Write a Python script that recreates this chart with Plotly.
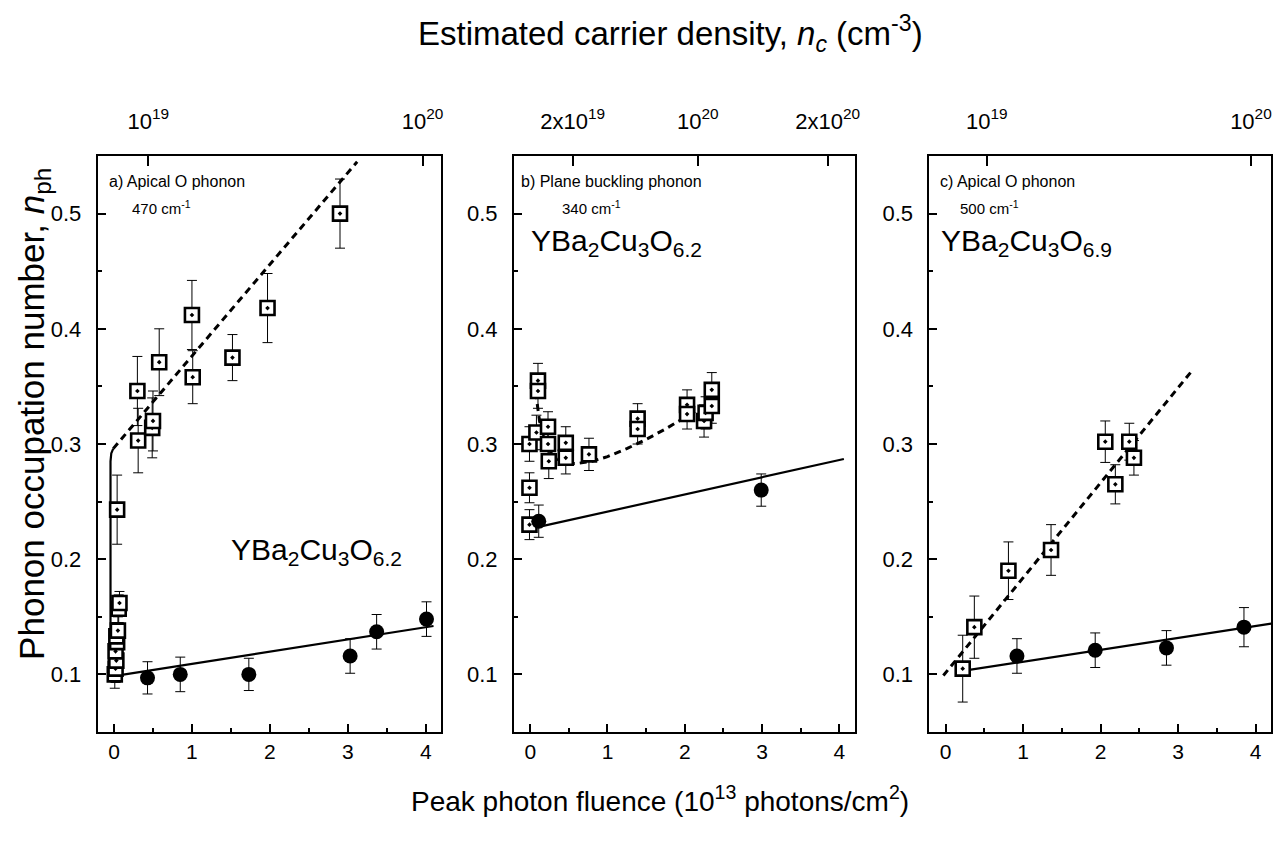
import plotly.graph_objects as go

FONT = "Liberation Sans, Arial, Helvetica, sans-serif"

# ---------------- data ----------------
# Panel a: apical O phonon 470 cm-1, YBa2Cu3O6.2
a_sq_x = [0.01, 0.02, 0.03, 0.02, 0.04, 0.03, 0.05, 0.06, 0.07, 0.04, 0.31, 0.30, 0.49, 0.50, 0.58, 1.00, 1.01, 1.52, 1.97, 2.90]
a_sq_y = [0.100, 0.105, 0.112, 0.120, 0.128, 0.133, 0.138, 0.157, 0.162, 0.243, 0.303, 0.346, 0.314, 0.320, 0.371, 0.412, 0.358, 0.375, 0.418, 0.500]
a_sq_e = [0.012, 0.012, 0.012, 0.012, 0.012, 0.012, 0.012, 0.012, 0.010, 0.030, 0.028, 0.030, 0.026, 0.026, 0.029, 0.030, 0.023, 0.020, 0.030, 0.030]
a_ci_x = [0.43, 0.85, 1.73, 3.03, 3.37, 4.01]
a_ci_y = [0.097, 0.100, 0.100, 0.116, 0.137, 0.148]
a_ci_e = [0.014, 0.015, 0.014, 0.015, 0.015, 0.015]
a_fit_solid_x = [-0.045, -0.045, -0.035, -0.01]
a_fit_solid_y = [0.100, 0.285, 0.292, 0.296]
a_fit_dash_x = [-0.01, 3.12]
a_fit_dash_y = [0.296, 0.545]
a_lin_x = [-0.045, 4.10]
a_lin_y = [0.098, 0.142]

# Panel b: plane buckling phonon 340 cm-1, YBa2Cu3O6.2
b_sq_x = [-0.01, -0.01, -0.01, 0.10, 0.10, 0.08, 0.23, 0.23, 0.24, 0.46, 0.46, 0.76, 1.39, 1.39, 2.03, 2.03, 2.25, 2.27, 2.35, 2.35]
b_sq_y = [0.230, 0.262, 0.300, 0.355, 0.346, 0.310, 0.315, 0.300, 0.285, 0.301, 0.288, 0.291, 0.322, 0.313, 0.334, 0.326, 0.320, 0.327, 0.347, 0.333]
b_sq_e = [0.013, 0.013, 0.015, 0.015, 0.015, 0.015, 0.013, 0.015, 0.015, 0.014, 0.014, 0.014, 0.013, 0.013, 0.013, 0.013, 0.014, 0.014, 0.015, 0.015]
b_ci_x = [0.11, 2.99]
b_ci_y = [0.233, 0.260]
b_ci_e = [0.014, 0.014]
b_fit_dash_x = [0.07, 0.12, 0.20, 0.30, 0.45, 0.60, 0.80, 1.00, 1.25, 1.50, 1.75, 2.00, 2.20]
b_fit_dash_y = [0.345, 0.320, 0.300, 0.289, 0.283, 0.283, 0.285, 0.289, 0.296, 0.304, 0.313, 0.323, 0.331]
b_lin_x = [0.11, 4.06]
b_lin_y = [0.228, 0.287]

# Panel c: apical O phonon 500 cm-1, YBa2Cu3O6.9
c_sq_x = [0.22, 0.37, 0.81, 1.36, 2.06, 2.19, 2.37, 2.43]
c_sq_y = [0.105, 0.141, 0.190, 0.208, 0.302, 0.265, 0.302, 0.288]
c_sq_e = [0.029, 0.027, 0.025, 0.022, 0.018, 0.017, 0.016, 0.015]
c_ci_x = [0.92, 1.93, 2.85, 3.85]
c_ci_y = [0.116, 0.121, 0.123, 0.141]
c_ci_e = [0.015, 0.015, 0.015, 0.017]
c_fit_dash_x = [-0.03, 3.16]
c_fit_dash_y = [0.099, 0.362]
c_lin_x = [0.22, 4.20]
c_lin_y = [0.103, 0.144]

# top axis (estimated carrier density) tick positions in fluence units and labels
top_a_vals = [0.44, 3.96]
top_a_text = ["10<sup>19</sup>", "10<sup>20</sup>"]
top_b_vals = [0.55, 2.17, 3.85]
top_b_text = ["2x10<sup>19</sup>", "10<sup>20</sup>", "2x10<sup>20</sup>"]
top_c_vals = [0.53, 3.94]
top_c_text = ["10<sup>19</sup>", "10<sup>20</sup>"]

y_ticks = [0.1, 0.2, 0.3, 0.4, 0.5]
x_ticks = [0, 1, 2, 3, 4]

# ---------------- figure ----------------
W, H = 1286, 841
fig = go.Figure()

panels = [
    dict(sq=(a_sq_x, a_sq_y, a_sq_e), ci=(a_ci_x, a_ci_y, a_ci_e),
         solid=[(a_fit_solid_x, a_fit_solid_y), (a_lin_x, a_lin_y)],
         dash=[(a_fit_dash_x, a_fit_dash_y)]),
    dict(sq=(b_sq_x, b_sq_y, b_sq_e), ci=(b_ci_x, b_ci_y, b_ci_e),
         solid=[(b_lin_x, b_lin_y)],
         dash=[(b_fit_dash_x, b_fit_dash_y)]),
    dict(sq=(c_sq_x, c_sq_y, c_sq_e), ci=(c_ci_x, c_ci_y, c_ci_e),
         solid=[(c_lin_x, c_lin_y)],
         dash=[(c_fit_dash_x, c_fit_dash_y)]),
]

for i, p in enumerate(panels):
    xa = "x" if i == 0 else f"x{i+1}"
    ya = "y" if i == 0 else f"y{i+1}"
    for (lx, ly) in p["solid"]:
        fig.add_trace(go.Scatter(x=lx, y=ly, mode="lines", xaxis=xa, yaxis=ya,
                                 line=dict(color="black", width=2.2), showlegend=False, hoverinfo="skip"))
    for (lx, ly) in p["dash"]:
        fig.add_trace(go.Scatter(x=lx, y=ly, mode="lines", xaxis=xa, yaxis=ya,
                                 line=dict(color="black", width=3, dash="7px,5px"), showlegend=False, hoverinfo="skip"))
    sx, sy, se = p["sq"]
    fig.add_trace(go.Scatter(x=sx, y=sy, mode="markers", xaxis=xa, yaxis=ya,
                             marker=dict(symbol="square-dot", size=14, color="white", line=dict(width=2.6, color="black")),
                             error_y=dict(type="data", array=se, visible=True, color="black", thickness=1, width=5),
                             showlegend=False))
    cx, cy, ce = p["ci"]
    fig.add_trace(go.Scatter(x=cx, y=cy, mode="markers", xaxis=xa, yaxis=ya,
                             marker=dict(symbol="circle", size=15, color="black"),
                             error_y=dict(type="data", array=ce, visible=True, color="black", thickness=1, width=5),
                             showlegend=False))

# invisible traces so top axes render
tops = [(top_a_vals, top_a_text), (top_b_vals, top_b_text), (top_c_vals, top_c_text)]
for i in range(3):
    fig.add_trace(go.Scatter(x=[None], y=[None], xaxis=f"x{i+4}", yaxis="y" if i == 0 else f"y{i+1}",
                             showlegend=False, hoverinfo="skip"))

x_domains = [(90 / W, 435 / W), (508 / W, 850 / W), (925 / W, 1268 / W)]
y_domain = (1 - 724 / H, 1 - 148 / H)
XR = [-0.21, 4.2]
YR = [0.05, 0.55]

layout = dict(
    width=W, height=H,
    margin=dict(l=0, r=0, t=0, b=0),
    paper_bgcolor="white", plot_bgcolor="white",
    font=dict(family=FONT, color="black", size=20),
    showlegend=False,
)
for i in range(3):
    xk = "xaxis" if i == 0 else f"xaxis{i+1}"
    yk = "yaxis" if i == 0 else f"yaxis{i+1}"
    layout[xk] = dict(
        domain=list(x_domains[i]), range=XR, anchor="y" if i == 0 else f"y{i+1}",
        showline=True, linecolor="black", linewidth=2, mirror=True,
        ticks="inside", ticklen=8, tickwidth=1.5, tickcolor="black",
        tickvals=x_ticks, ticktext=[str(v) for v in x_ticks],
        tickfont=dict(size=21, family=FONT), showgrid=False, zeroline=False,
        minor=dict(ticks="inside", ticklen=4, tickwidth=1.5, tickcolor="black", dtick=0.5, tick0=0, showgrid=False),
        ticklabelstandoff=0,
    )
    layout[yk] = dict(
        domain=list(y_domain), range=YR, anchor="x" if i == 0 else f"x{i+1}",
        showline=True, linecolor="black", linewidth=2, mirror=True,
        ticks="inside", ticklen=8, tickwidth=1.5, tickcolor="black",
        tickvals=y_ticks, ticktext=[f"{v:.1f}" for v in y_ticks],
        tickfont=dict(size=22, family=FONT), showgrid=False, zeroline=False,
        minor=dict(ticks="inside", ticklen=4, tickwidth=1.5, tickcolor="black", dtick=0.05, tick0=0.05, showgrid=False),
        ticklabelstandoff=10,
    )
    tv, tt = tops[i]
    layout[f"xaxis{i+4}"] = dict(
        domain=list(x_domains[i]), range=XR, anchor="y" if i == 0 else f"y{i+1}",
        overlaying="x" if i == 0 else f"x{i+1}", side="top",
        showline=False, ticks="inside", ticklen=10, tickwidth=1.5, tickcolor="black",
        tickvals=tv, ticktext=tt, tickfont=dict(size=22, family=FONT),
        showgrid=False, zeroline=False, ticklabelstandoff=22,
    )

fig.update_layout(**layout)

ann = []
def add_text(i, x, y, text, size, xanchor="left", yanchor="middle"):
    ann.append(dict(xref="x" if i == 0 else f"x{i+1}", yref="y" if i == 0 else f"y{i+1}",
                    x=x, y=y, text=text, showarrow=False, xanchor=xanchor, yanchor=yanchor,
                    font=dict(size=size, family=FONT, color="black")))

add_text(0, -0.09, 0.528, "a) Apical O phonon", 16)
add_text(0, 0.20, 0.505, "470 cm<sup>-1</sup>", 15)
add_text(0, 1.47, 0.207, "YBa<sub>2</sub>Cu<sub>3</sub>O<sub>6.2</sub>", 30)
add_text(1, -0.14, 0.528, "b) Plane buckling phonon", 16)
add_text(1, 0.38, 0.505, "340 cm<sup>-1</sup>", 15)
add_text(1, -0.02, 0.475, "YBa<sub>2</sub>Cu<sub>3</sub>O<sub>6.2</sub>", 30)
add_text(2, -0.10, 0.528, "c) Apical O phonon", 16)
add_text(2, 0.16, 0.505, "500 cm<sup>-1</sup>", 15)
add_text(2, -0.09, 0.475, "YBa<sub>2</sub>Cu<sub>3</sub>O<sub>6.9</sub>", 30)

# axis titles
ann.append(dict(xref="paper", yref="paper", x=665 / W, y=1 - 26 / H, showarrow=False,
                text="Estimated carrier density, <i>n<sub>c</sub></i> (cm<sup>-3</sup>)",
                font=dict(size=33, family=FONT), xanchor="center", yanchor="middle"))
ann.append(dict(xref="paper", yref="paper", x=655 / W, y=1 - 791 / H, showarrow=False,
                text="Peak photon fluence (10<sup>13</sup> photons/cm<sup>2</sup>)",
                font=dict(size=28, family=FONT), xanchor="center", yanchor="middle"))
ann.append(dict(xref="paper", yref="paper", x=26 / W, y=1 - 406 / H, showarrow=False, textangle=-90,
                text="Phonon occupation number, <i>n</i><sub>ph</sub>",
                font=dict(size=35, family=FONT), xanchor="center", yanchor="middle"))

fig.update_layout(annotations=ann)
fig.write_html("out.html")
